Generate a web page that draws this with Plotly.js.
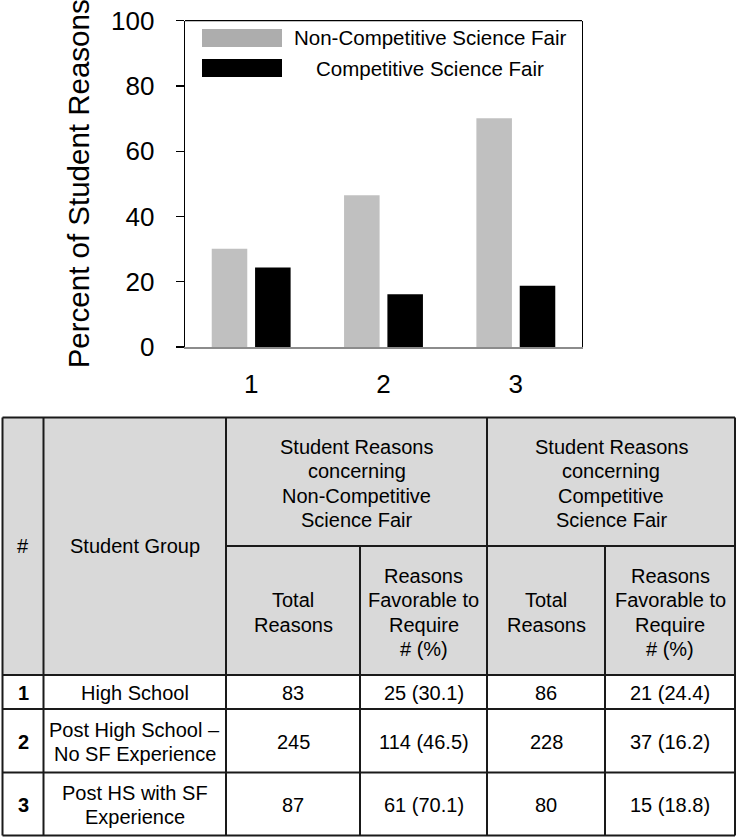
<!DOCTYPE html>
<html>
<head>
<meta charset="utf-8">
<script src="https://cdn.plot.ly/plotly-3.0.1.min.js"></script>
<style>html,body{margin:0;padding:0;background:#fff;}#chart{width:737px;height:839px;}</style>
</head>
<body>
<div id="chart"></div>
<script>
// ---- Data ----
const categories = ['1', '2', '3'];
const seriesNames = ['Non-Competitive Science Fair', 'Competitive Science Fair'];
const groupNames = [['High School'], ['Post High School \u2013', 'No SF Experience'], ['Post HS with SF', 'Experience']];
const nonCompTotal = [83, 245, 87];
const nonCompFavN = [25, 114, 61];
const nonCompFavPct = [30.1, 46.5, 70.1];
const compTotal = [86, 228, 80];
const compFavN = [21, 37, 15];
const compFavPct = [24.4, 16.2, 18.8];
const yTicks = [0, 20, 40, 60, 80, 100];

// ---- Layout helpers (pixel -> paper) ----
const W = 737, H = 839;
const X = px => px / W;
const Y = py => 1 - py / H;
const FONT = 'Arial, "Liberation Sans", sans-serif';
const GRAY = '#c0c0c0';
const SWATCH_GRAY = '#adadad';

const traces = [
  {type: 'bar', x: categories, y: nonCompFavPct, name: seriesNames[0],
   marker: {color: GRAY}, showlegend: false, hoverinfo: 'x+y'},
  {type: 'bar', x: categories, y: compFavPct, name: seriesNames[1],
   marker: {color: '#000000'}, showlegend: false, hoverinfo: 'x+y'}
];

const shapes = [];
const annotations = [];

// plot top border
shapes.push({type: 'line', xref: 'paper', yref: 'paper', x0: X(185), x1: X(582), y0: Y(20.7), y1: Y(20.7),
  line: {color: '#000', width: 1.3}});

// custom legend
const legendRows = [{c: SWATCH_GRAY, y: 38}, {c: '#000000', y: 68}];
legendRows.forEach((r, i) => {
  shapes.push({type: 'rect', xref: 'paper', yref: 'paper', x0: X(202), x1: X(282), y0: Y(r.y - 9), y1: Y(r.y + 9),
    fillcolor: r.c, line: {width: 0}});
  annotations.push({xref: 'paper', yref: 'paper', x: X(430), y: Y(r.y), xanchor: 'center', yanchor: 'middle',
    text: seriesNames[i], showarrow: false, font: {family: FONT, size: 20.5, color: '#000'}});
});

// ---- Table ----
const tL = 2.5, tR = 735, tT = 417.5, tB = 835.5;
const colX = [tL, 43.5, 226, 360, 487, 605, tR];
const hdrMid = 546, hdrB = 675;
const rowB = [709, 772.5, tB];
const lineC = '#1a1a1a', lw = 2;
const LS = 24.5;

shapes.push({type: 'rect', xref: 'paper', yref: 'paper', x0: X(tL), x1: X(tR), y0: Y(tT), y1: Y(hdrB),
  fillcolor: '#d9d9d9', line: {width: 0}, layer: 'below'});
function hline(x0, x1, y) { shapes.push({type: 'line', xref: 'paper', yref: 'paper', x0: X(x0), x1: X(x1), y0: Y(y), y1: Y(y), line: {color: lineC, width: lw}}); }
function vline(x, y0, y1) { shapes.push({type: 'line', xref: 'paper', yref: 'paper', x0: X(x), x1: X(x), y0: Y(y0), y1: Y(y1), line: {color: lineC, width: lw}}); }
hline(tL, tR, tT); hline(tL, tR, tB); vline(tL, tT, tB); vline(tR, tT, tB);
hline(colX[2], tR, hdrMid);
hline(tL, tR, hdrB);
hline(tL, tR, rowB[0]); hline(tL, tR, rowB[1]);
vline(colX[1], tT, tB); vline(colX[2], tT, tB); vline(colX[4], tT, tB);
vline(colX[3], hdrMid, tB); vline(colX[5], hdrMid, tB);

function cell(lines, x0, x1, y0, y1, bold, dy) {
  const n = lines.length;
  const yc = (y0 + y1) / 2 + (dy || 0);
  lines.forEach((t, k) => {
    annotations.push({xref: 'paper', yref: 'paper', x: X((x0 + x1) / 2), y: Y(yc + (k - (n - 1) / 2) * LS),
      xanchor: 'center', yanchor: 'middle', align: 'center', showarrow: false,
      text: bold ? '<b>' + t + '</b>' : t,
      font: {family: FONT, size: 20, color: '#000'}});
  });
}
cell(['#'], colX[0], colX[1], tT, hdrB);
cell(['Student Group'], colX[1], colX[2], tT, hdrB);
cell(['Student Reasons', 'concerning', 'Non-Competitive', 'Science Fair'], colX[2], colX[4], tT, hdrMid, false, 1.5);
cell(['Student Reasons', 'concerning', 'Competitive', 'Science Fair'], colX[4], colX[6], tT, hdrMid, false, 1.5);
cell(['Total', 'Reasons'], colX[2], colX[3], hdrMid, hdrB, false, 2);
cell(['Reasons', 'Favorable to', 'Require', '# (%)'], colX[3], colX[4], hdrMid, hdrB, false, 2);
cell(['Total', 'Reasons'], colX[4], colX[5], hdrMid, hdrB, false, 2);
cell(['Reasons', 'Favorable to', 'Require', '# (%)'], colX[5], colX[6], hdrMid, hdrB, false, 2);

const rowTops = [hdrB, rowB[0], rowB[1]];
categories.forEach((c, i) => {
  const y0 = rowTops[i], y1 = rowB[i];
  cell([c], colX[0], colX[1], y0, y1, true, 1);
  cell(groupNames[i], colX[1], colX[2], y0, y1, false, 1);
  cell([String(nonCompTotal[i])], colX[2], colX[3], y0, y1, false, 1);
  cell([nonCompFavN[i] + ' (' + nonCompFavPct[i].toFixed(1) + ')'], colX[3], colX[4], y0, y1, false, 1);
  cell([String(compTotal[i])], colX[4], colX[5], y0, y1, false, 1);
  cell([compFavN[i] + ' (' + compFavPct[i].toFixed(1) + ')'], colX[5], colX[6], y0, y1, false, 1);
});

const layout = {
  width: W, height: H,
  margin: {l: 0, r: 0, t: 0, b: 0},
  paper_bgcolor: '#fff', plot_bgcolor: '#fff',
  font: {family: FONT, color: '#000'},
  barmode: 'group', bargap: 0.345, bargroupgap: 0.18,
  showlegend: false,
  xaxis: {domain: [X(185), X(582)], range: [-0.5, 2.5], type: 'category',
    showline: true, linecolor: '#8c8c8c', linewidth: 2, ticks: '', showgrid: false, zeroline: false,
    tickfont: {size: 26, family: FONT, color: '#000'}, ticklabelstandoff: 13, fixedrange: true},
  yaxis: {domain: [Y(347), Y(20.7)], range: [0, 100], tickvals: yTicks,
    showline: true, linecolor: '#000', linewidth: 1.3, mirror: true, ticks: 'outside', ticklen: 8, tickwidth: 1.3, tickcolor: '#000',
    showgrid: false, zeroline: false, tickfont: {size: 26, family: FONT, color: '#000'}, ticklabelstandoff: 16,
    title: {text: 'Percent of Student Reasons', font: {size: 29.5, family: FONT, color: '#000'}, standoff: 12}, fixedrange: true},
  shapes: shapes,
  annotations: annotations
};

Plotly.newPlot('chart', traces, layout, {displayModeBar: false, staticPlot: true});
</script>
</body>
</html>
